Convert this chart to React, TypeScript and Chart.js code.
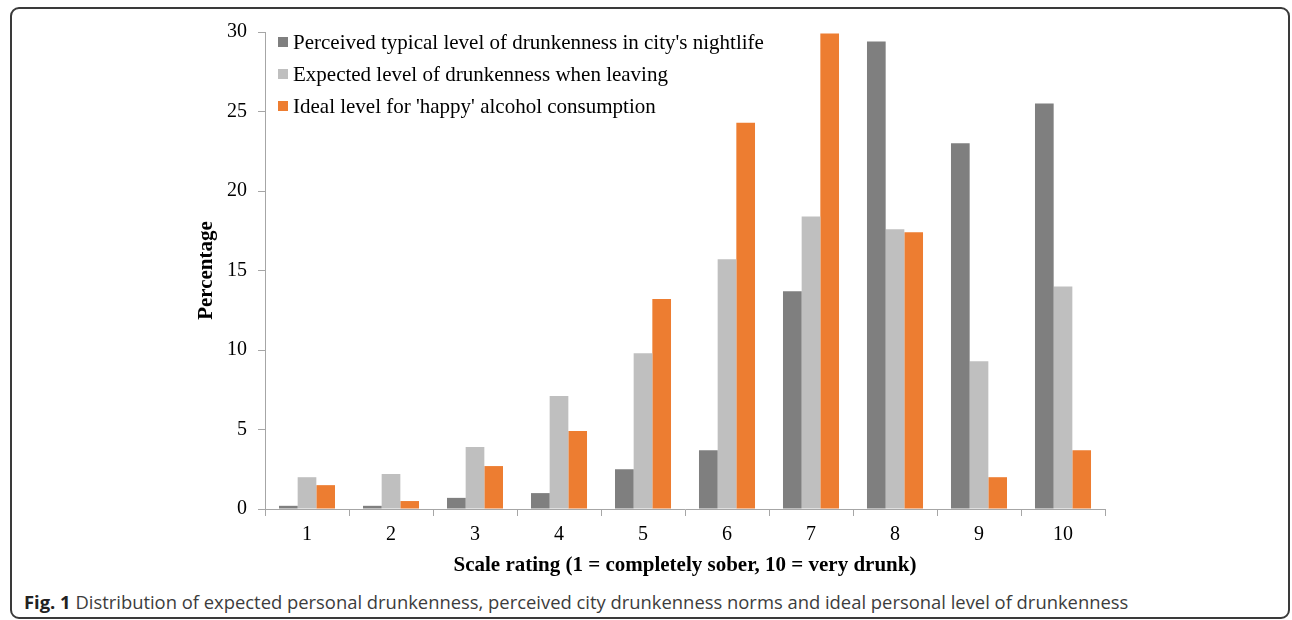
import React, { useEffect, useRef } from "react";
import { Chart, registerables } from "chart.js";

Chart.register(...registerables);

const categories = ["1", "2", "3", "4", "5", "6", "7", "8", "9", "10"];
const seriesNames = [
  "Perceived typical level of drunkenness in city's nightlife",
  "Expected level of drunkenness when leaving",
  "Ideal level for 'happy' alcohol consumption",
];
const perceivedCity = [0.2, 0.2, 0.7, 1.0, 2.5, 3.7, 13.7, 29.4, 23.0, 25.5];
const expectedLeaving = [2.0, 2.2, 3.9, 7.1, 9.8, 15.7, 18.4, 17.6, 9.3, 14.0];
const idealHappy = [1.5, 0.5, 2.7, 4.9, 13.2, 24.3, 29.9, 17.4, 2.0, 3.7];
const seriesColors = ["#7F7F7F", "#BFBFBF", "#ED7D31"];
const yTicks = [0, 5, 10, 15, 20, 25, 30];
const xTitle = "Scale rating (1 = completely sober, 10 = very drunk)";
const yTitle = "Percentage";

const SERIF = '"Liberation Serif", "Times New Roman", serif';

const legendPlugin = {
  id: "insideLegend",
  afterDraw(chart: any) {
    const ctx = chart.ctx;
    const area = chart.chartArea;
    ctx.save();
    ctx.font = `21px ${SERIF}`;
    ctx.textBaseline = "alphabetic";
    ctx.textAlign = "left";
    chart.data.datasets.forEach((ds: any, i: number) => {
      const base = area.top + 17 + i * 32;
      ctx.fillStyle = ds.backgroundColor;
      ctx.fillRect(area.left + 13, base - 12, 10, 10);
      ctx.fillStyle = "#000";
      ctx.fillText(ds.label, area.left + 28, base);
    });
    ctx.restore();
  },
};

export default function App() {
  const ref = useRef<HTMLCanvasElement | null>(null);

  useEffect(() => {
    if (!ref.current) return;
    const chart = new Chart(ref.current, {
      type: "bar",
      data: {
        labels: categories,
        datasets: [
          { label: seriesNames[0], data: perceivedCity, backgroundColor: seriesColors[0] },
          { label: seriesNames[1], data: expectedLeaving, backgroundColor: seriesColors[1] },
          { label: seriesNames[2], data: idealHappy, backgroundColor: seriesColors[2] },
        ],
      },
      options: {
        responsive: false,
        animation: false,
        devicePixelRatio: 1,
        layout: { padding: { left: 180, right: 187, top: 32, bottom: 2 } },
        datasets: { bar: { categoryPercentage: 0.667, barPercentage: 1.0 } },
        plugins: { legend: { display: false }, tooltip: { enabled: false }, title: { display: false } },
        scales: {
          x: {
            grid: {
              display: true,
              drawOnChartArea: false,
              drawTicks: true,
              tickLength: 7,
              color: "#A6A6A6",
              offset: true,
            },
            border: { display: true, color: "#A6A6A6", width: 1 },
            ticks: { color: "#000", font: { family: SERIF, size: 20 }, padding: 7 },
            title: {
              display: true,
              text: xTitle,
              color: "#000",
              font: { family: SERIF, size: 21, weight: "bold", lineHeight: 1.2 },
              padding: { top: 0, bottom: 0 },
            },
            afterFit: (s: any) => {
              s.height = 69;
            },
          },
          y: {
            min: 0,
            max: 30,
            afterBuildTicks: (s: any) => {
              s.ticks = yTicks.map((v) => ({ value: v }));
            },
            grid: {
              display: true,
              drawOnChartArea: false,
              drawTicks: true,
              tickLength: 7,
              color: "#A6A6A6",
            },
            border: { display: true, color: "#A6A6A6", width: 1 },
            ticks: { color: "#000", font: { family: SERIF, size: 20 }, padding: 11 },
            title: {
              display: true,
              text: yTitle,
              color: "#000",
              font: { family: SERIF, size: 21, weight: "bold", lineHeight: 1.2 },
              padding: { top: 14, bottom: 0 },
            },
            afterFit: (s: any) => {
              s.width = 85;
            },
          },
        },
      } as any,
      plugins: [legendPlugin],
    });
    return () => chart.destroy();
  }, []);

  return (
    <div
      style={{
        position: "fixed",
        left: 0,
        top: 0,
        width: 1292,
        height: 620,
        background: "#fff",
        overflow: "hidden",
      }}
    >
      <div
        style={{
          position: "absolute",
          left: 10,
          top: 7,
          width: 1280,
          height: 612,
          boxSizing: "border-box",
          border: "2px solid #3a3a3a",
          borderRadius: 9,
        }}
      />
      <canvas
        ref={ref}
        width={1292}
        height={580}
        style={{ position: "absolute", left: 0, top: 0, width: 1292, height: 580 }}
      />
      <div
        style={{
          position: "absolute",
          left: 24,
          top: 593,
          fontFamily: '"Open Sans", sans-serif',
          fontSize: 18.4,
          lineHeight: "18px",
          color: "#3c3c3c",
          whiteSpace: "nowrap",
        }}
      >
        <b style={{ color: "#222" }}>Fig. 1</b> Distribution of expected personal drunkenness, perceived city
        drunkenness norms and ideal personal level of drunkenness
      </div>
    </div>
  );
}
